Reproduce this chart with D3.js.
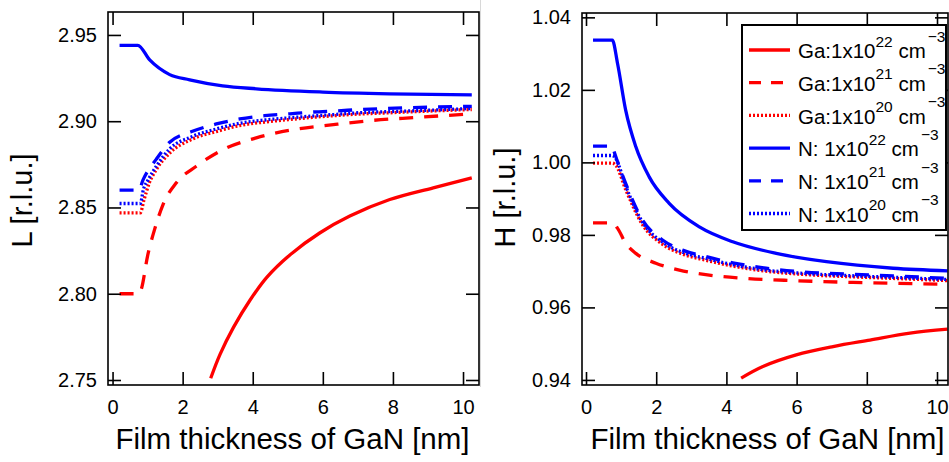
<!DOCTYPE html>
<html><head><meta charset="utf-8">
<script src="https://cdn.jsdelivr.net/npm/d3@7"></script>
<style>
body{margin:0;background:#fff;}
svg text{font-family:"Liberation Sans",Arial,sans-serif;fill:#000;}
</style></head>
<body><svg id="c" width="949" height="462"></svg>
<script>
// ---------- DATA ----------
const xTicks = [0, 2, 4, 6, 8, 10];
const lTicks = [2.75, 2.80, 2.85, 2.90, 2.95];
const hTicks = [0.94, 0.96, 0.98, 1.00, 1.02, 1.04];
const seriesNames = ["Ga:1x10|22", "Ga:1x10|21", "Ga:1x10|20", "N: 1x10|22", "N: 1x10|21", "N: 1x10|20"];
const seriesColors = ["#ff0000", "#ff0000", "#ff0000", "#0000ff", "#0000ff", "#0000ff"];
const seriesStyles = ["solid", "dashed", "dotted", "solid", "dashed", "dotted"];

// Left panel: L [r.l.u.] vs thickness
const L_Ga22_x = [2.8, 3.07, 3.45, 3.93, 4.4, 5.06, 5.91, 6.77, 7.91, 9.15, 10.25];
const L_Ga22_y = [2.751, 2.765, 2.7805, 2.7965, 2.8095, 2.8225, 2.8352, 2.845, 2.8546, 2.8614, 2.8672];
const L_Ga21_x = [0.2, 0.75, 0.82, 1.0, 1.2, 1.44, 1.82, 2.39, 3.25, 4.1, 5.15, 6.3, 7.44, 8.68, 10.25];
const L_Ga21_y = [2.80, 2.80, 2.8026, 2.822, 2.8373, 2.8517, 2.8643, 2.8739, 2.8845, 2.8903, 2.8951, 2.898, 2.9005, 2.9022, 2.9043];
const L_Ga20_x = [0.2, 0.79, 0.9, 1.05, 1.25, 1.63, 2.26, 2.96, 3.63, 4.34, 5.06, 5.7, 6.4, 7.1, 7.8, 9.2, 10.25];
const L_Ga20_y = [2.8469, 2.8469, 2.8546, 2.8643, 2.872, 2.8815, 2.8895, 2.894, 2.8975, 2.8995, 2.901, 2.9022, 2.9033, 2.9042, 2.9048, 2.906, 2.9068];
const L_N22_x = [0.2, 0.72, 1.06, 1.63, 2.2, 3.14, 4.1, 6.0, 7.9, 10.25];
const L_N22_y = [2.9440, 2.9440, 2.9355, 2.927, 2.924, 2.9205, 2.9188, 2.9169, 2.9159, 2.9153];
const L_N21_x = [0.2, 0.75, 0.87, 1.25, 1.63, 2.26, 2.96, 3.63, 4.34, 5.06, 5.7, 6.4, 7.1, 7.8, 9.2, 10.25];
const L_N21_y = [2.860, 2.860, 2.866, 2.878, 2.8878, 2.894, 2.8984, 2.9013, 2.9032, 2.9043, 2.9053, 2.906, 2.9068, 2.9074, 2.9082, 2.9086];
const L_N20_x = [0.2, 0.79, 0.88, 1.02, 1.25, 1.63, 2.26, 2.96, 3.63, 4.34, 5.06, 5.7, 6.4, 7.1, 7.8, 9.2, 10.25];
const L_N20_y = [2.8523, 2.8523, 2.8604, 2.8662, 2.874, 2.884, 2.891, 2.8955, 2.8988, 2.9007, 2.902, 2.903, 2.904, 2.905, 2.9055, 2.9065, 2.9074];

// Right panel: H [r.l.u.] vs thickness
const H_Ga22_x = [4.42, 5.04, 5.99, 7.04, 8.09, 9.23, 10.3];
const H_Ga22_y = [0.9405, 0.9437, 0.9469, 0.9492, 0.951, 0.9529, 0.954];
const H_Ga21_x = [0.2, 0.75, 0.9, 1.13, 1.42, 1.99, 2.66, 3.51, 4.56, 5.89, 7.6, 10.3];
const H_Ga21_y = [0.9833, 0.9833, 0.9818, 0.9777, 0.9749, 0.9722, 0.9703, 0.9689, 0.968, 0.9674, 0.9669, 0.9664];
const H_Ga20_x = [0.2, 0.75, 0.85, 1.13, 1.61, 2.18, 2.75, 3.42, 4.18, 5.13, 6.18, 7.42, 8.75, 10.3];
const H_Ga20_y = [0.9998, 0.9998, 0.9992, 0.9925, 0.9828, 0.9774, 0.9747, 0.973, 0.9714, 0.970, 0.9691, 0.9685, 0.968, 0.9674];
const H_N22_x = [0.2, 0.75, 0.9, 1.13, 1.42, 1.8, 2.37, 3.23, 4.18, 5.42, 6.85, 8.75, 10.3];
const H_N22_y = [1.0337, 1.0337, 1.0272, 1.0144, 1.0043, 0.996, 0.9887, 0.9822, 0.9781, 0.9749, 0.9726, 0.9708, 0.9701];
const H_N21_x = [0.2, 0.75, 0.8, 1.13, 1.61, 2.18, 2.75, 3.42, 4.18, 5.13, 6.18, 7.42, 8.75, 10.3];
const H_N21_y = [1.0045, 1.0045, 1.003, 0.9942, 0.9841, 0.9786, 0.9758, 0.974, 0.9723, 0.9708, 0.9698, 0.9692, 0.9687, 0.968];
const H_N20_x = [0.2, 0.75, 0.85, 1.13, 1.61, 2.18, 2.75, 3.42, 4.18, 5.13, 6.18, 7.42, 8.75, 10.3];
const H_N20_y = [1.0019, 1.0019, 1.001, 0.9935, 0.9835, 0.978, 0.9752, 0.9735, 0.9718, 0.9703, 0.9694, 0.9688, 0.9683, 0.9677];

// ---------- DRAW ----------
const svg = d3.select("#c");
const dashFor = s => s === "dashed" ? "14,11" : (s === "dotted" ? "2,2" : null);
const zip = (xs, ys) => xs.map((x, i) => [x, ys[i]]);

function panel(opts) {
  const {x0, x1, y0, y1, xDom, yDom, yTicks, fmt, series, yLabel, ylx, yly, xlx} = opts;
  const x = d3.scaleLinear().domain(xDom).range([x0, x1]);
  const y = d3.scaleLinear().domain(yDom).range([y1, y0]);
  const g = svg.append("g");
  const clipId = "clip" + Math.round(x0);
  svg.append("clipPath").attr("id", clipId).append("rect")
    .attr("x", x0).attr("y", y0).attr("width", x1 - x0).attr("height", y1 - y0);

  const lineMono = d3.line().x(d => x(d[0])).y(d => y(d[1])).curve(d3.curveMonotoneX);
  const lineSmooth = d3.line().x(d => x(d[0])).y(d => y(d[1])).curve(d3.curveCatmullRom.alpha(0.5));
  const lg = g.append("g").attr("clip-path", `url(#${clipId})`);
  series.forEach((s, i) => {
    const hasFlat = s[1][0] === s[1][1];
    lg.append("path").datum(zip(s[0], s[1]))
      .attr("d", hasFlat ? lineMono : lineSmooth).attr("fill", "none")
      .attr("stroke", seriesColors[i]).attr("stroke-width", 3.3)
      .attr("stroke-dasharray", dashFor(seriesStyles[i]));
  });

  const tl = 13;
  const axB = d3.axisBottom(x).tickValues(xTicks).tickSize(-tl).tickFormat(d3.format("d")).tickPadding(15);
  const axT = d3.axisTop(x).tickValues(xTicks).tickSize(-tl).tickFormat("");
  const axL = d3.axisLeft(y).tickValues(yTicks).tickSize(-tl).tickFormat(d3.format(fmt)).tickPadding(11);
  const axR = d3.axisRight(y).tickValues(yTicks).tickSize(-tl).tickFormat("");
  const style = a => {
    a.select(".domain").remove();
    a.selectAll(".tick line").attr("stroke", "#000").attr("stroke-width", 1.6);
    a.selectAll("text").attr("font-size", 20).attr("font-family", "Liberation Sans, Arial, sans-serif").attr("fill", "#000");
  };
  g.append("g").attr("transform", `translate(0,${y1})`).call(axB).call(style);
  g.append("g").attr("transform", `translate(0,${y0})`).call(axT).call(style);
  g.append("g").attr("transform", `translate(${x0},0)`).call(axL).call(style);
  g.append("g").attr("transform", `translate(${x1},0)`).call(axR).call(style);

  g.append("rect").attr("x", x0).attr("y", y0).attr("width", x1 - x0).attr("height", y1 - y0)
    .attr("fill", "none").attr("stroke", "#000").attr("stroke-width", 1.6);

  g.append("text").attr("transform", `translate(${ylx},${yly}) rotate(-90)`)
    .attr("text-anchor", "middle").attr("font-size", 29).text(yLabel);
  g.append("text").attr("x", xlx).attr("y", 449).attr("text-anchor", "middle")
    .attr("font-size", 29.5).text("Film thickness of GaN [nm]");
  return {x, y};
}

panel({x0: 108, x1: 479, y0: 12, y1: 385, xDom: [-0.13, 10.456], yDom: [2.7471, 2.9633],
  yTicks: lTicks, fmt: ".2f", yLabel: "L [r.l.u.]", ylx: 32, yly: 200.5, xlx: 292.5,
  series: [[L_Ga22_x, L_Ga22_y], [L_Ga21_x, L_Ga21_y], [L_Ga20_x, L_Ga20_y],
           [L_N22_x, L_N22_y], [L_N21_x, L_N21_y], [L_N20_x, L_N20_y]]});

// separator line between panels
svg.append("line").attr("x1", 480.5).attr("x2", 480.5).attr("y1", 0).attr("y2", 387)
  .attr("stroke", "#d8d8d8").attr("stroke-width", 1);

panel({x0: 582, x1: 948, y0: 13, y1: 385, xDom: [-0.114, 10.313], yDom: [0.9386, 1.0412],
  yTicks: hTicks, fmt: ".2f", yLabel: "H [r.l.u.]", ylx: 515, yly: 197.5, xlx: 767.5,
  series: [[H_Ga22_x, H_Ga22_y], [H_Ga21_x, H_Ga21_y], [H_Ga20_x, H_Ga20_y],
           [H_N22_x, H_N22_y], [H_N21_x, H_N21_y], [H_N20_x, H_N20_y]]});

// ---------- LEGEND ----------
const leg = svg.append("g");
leg.append("rect").attr("x", 742).attr("y", 25).attr("width", 204).attr("height", 205)
  .attr("fill", "#fff").attr("stroke", "#000").attr("stroke-width", 2);
seriesNames.forEach((nm, i) => {
  const base = 58.3 + i * 32.7;
  leg.append("line").attr("x1", 749).attr("x2", 790).attr("y1", base - 8.3).attr("y2", base - 8.3)
    .attr("stroke", seriesColors[i]).attr("stroke-width", 3.3)
    .attr("stroke-dasharray", seriesStyles[i] === "dashed" ? "12,10" : dashFor(seriesStyles[i]));
  const [pre, exp] = nm.split("|");
  const t = leg.append("text").attr("x", 798).attr("y", base).attr("font-size", 20.5);
  t.append("tspan").text(pre);
  t.append("tspan").attr("font-size", 15.5).attr("dy", -11.7).text(exp);
  t.append("tspan").attr("dy", 11.7).text(" cm");
  t.append("tspan").attr("font-size", 15.5).attr("dy", -16.6).attr("dx", 2).text("\u22123");
});
</script></body></html>
